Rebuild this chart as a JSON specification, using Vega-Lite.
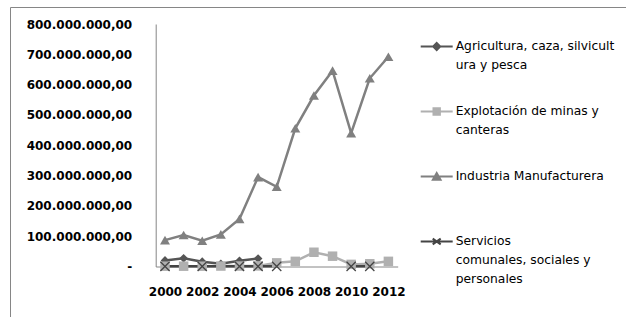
{
  "$schema": "https://vega.github.io/schema/vega-lite/v6.json",
  "autosize": {"type": "none"},
  "width": 242,
  "height": 242.5,
  "padding": {"left": 155.7, "top": 24, "right": 228.3, "bottom": 50.5},
  "background": "white",
  "config": {"view": {"stroke": null}},
  "data": {"values": [
    {"s": "Agricultura, caza, silvicultura y pesca", "year": 2000, "v": 20000000},
    {"s": "Agricultura, caza, silvicultura y pesca", "year": 2001, "v": 27000000},
    {"s": "Agricultura, caza, silvicultura y pesca", "year": 2002, "v": 16000000},
    {"s": "Agricultura, caza, silvicultura y pesca", "year": 2003, "v": 9000000},
    {"s": "Agricultura, caza, silvicultura y pesca", "year": 2004, "v": 19000000},
    {"s": "Agricultura, caza, silvicultura y pesca", "year": 2005, "v": 26000000},
    {"s": "Explotación de minas y canteras", "year": 2000, "v": 1000000},
    {"s": "Explotación de minas y canteras", "year": 2001, "v": 1000000},
    {"s": "Explotación de minas y canteras", "year": 2002, "v": 1000000},
    {"s": "Explotación de minas y canteras", "year": 2003, "v": 1500000},
    {"s": "Explotación de minas y canteras", "year": 2004, "v": 1500000},
    {"s": "Explotación de minas y canteras", "year": 2005, "v": 2000000},
    {"s": "Explotación de minas y canteras", "year": 2006, "v": 12000000},
    {"s": "Explotación de minas y canteras", "year": 2007, "v": 17000000},
    {"s": "Explotación de minas y canteras", "year": 2008, "v": 47000000},
    {"s": "Explotación de minas y canteras", "year": 2009, "v": 34000000},
    {"s": "Explotación de minas y canteras", "year": 2010, "v": 7000000},
    {"s": "Explotación de minas y canteras", "year": 2011, "v": 9000000},
    {"s": "Explotación de minas y canteras", "year": 2012, "v": 17000000},
    {"s": "Industria Manufacturera", "year": 2000, "v": 87000000},
    {"s": "Industria Manufacturera", "year": 2001, "v": 104000000},
    {"s": "Industria Manufacturera", "year": 2002, "v": 85000000},
    {"s": "Industria Manufacturera", "year": 2003, "v": 106000000},
    {"s": "Industria Manufacturera", "year": 2004, "v": 157000000},
    {"s": "Industria Manufacturera", "year": 2005, "v": 295000000},
    {"s": "Industria Manufacturera", "year": 2006, "v": 263000000},
    {"s": "Industria Manufacturera", "year": 2007, "v": 456000000},
    {"s": "Industria Manufacturera", "year": 2008, "v": 564000000},
    {"s": "Industria Manufacturera", "year": 2009, "v": 646000000},
    {"s": "Industria Manufacturera", "year": 2010, "v": 440000000},
    {"s": "Industria Manufacturera", "year": 2011, "v": 621000000},
    {"s": "Industria Manufacturera", "year": 2012, "v": 692000000},
    {"s": "Servicios comunales, sociales y personales", "year": 2000, "v": 500000},
    {"s": "Servicios comunales, sociales y personales", "year": 2002, "v": 500000},
    {"s": "Servicios comunales, sociales y personales", "year": 2004, "v": 500000},
    {"s": "Servicios comunales, sociales y personales", "year": 2005, "v": 500000},
    {"s": "Servicios comunales, sociales y personales", "year": 2006, "v": 500000},
    {"s": "Servicios comunales, sociales y personales", "year": 2007, "v": null},
    {"s": "Servicios comunales, sociales y personales", "year": 2010, "v": 500000},
    {"s": "Servicios comunales, sociales y personales", "year": 2011, "v": 500000}
  ]},
  "encoding": {
    "x": {
      "field": "year", "type": "ordinal",
      "scale": {"type": "point", "padding": 0.5},
      "axis": {
        "title": null,
        "values": [2000, 2002, 2004, 2006, 2008, 2010, 2012],
        "labelAngle": 0,
        "labelFont": "DejaVu Sans", "labelFontWeight": "bold", "labelFontSize": 12,
        "labelColor": "#000000", "labelPadding": 20,
        "ticks": false, "domainColor": "#868686", "domainWidth": 1, "grid": false
      }
    },
    "y": {
      "field": "v", "type": "quantitative",
      "scale": {"domain": [0, 800000000], "nice": false},
      "axis": {
        "title": null,
        "values": [0, 100000000, 200000000, 300000000, 400000000, 500000000, 600000000, 700000000, 800000000],
        "labelExpr": "datum.value == 0 ? '-' : (datum.value / 100000000) + '00.000.000,00'",
        "labelFont": "DejaVu Sans", "labelFontWeight": "bold", "labelFontSize": 12,
        "labelColor": "#000000", "labelPadding": 24,
        "ticks": false, "domainColor": "#868686", "domainWidth": 1, "grid": false
      }
    },
    "color": {
      "field": "s", "type": "nominal",
      "scale": {
        "domain": ["Agricultura, caza, silvicultura y pesca", "Explotación de minas y canteras", "Industria Manufacturera", "Servicios comunales, sociales y personales"],
        "range": ["#555555", "#b0b0b0", "#808080", "#444444"]
      },
      "legend": {
        "title": null,
        "orient": "none",
        "legendX": 264,
        "legendY": -10,
        "padding": 0,
        "rowPadding": 0,
        "clipHeight": 65,
        "symbolType": "M-1,0H1",
        "symbolSize": 1024,
        "symbolStrokeWidth": 2,
        "labelOffset": 2,
        "labelFont": "DejaVu Sans", "labelFontSize": 12.3, "labelColor": "#000000",
        "labelBaseline": "top",
        "labelLimit": 300,
        "labelExpr": "datum.label == 'Agricultura, caza, silvicultura y pesca' ? ['Agricultura, caza, silvicult', 'ura y pesca'] : datum.label == 'Explotación de minas y canteras' ? ['Explotación de minas y', 'canteras'] : datum.label == 'Servicios comunales, sociales y personales' ? ['Servicios', 'comunales, sociales y', 'personales'] : datum.label",
        "encode": {
          "labels": {"update": {"dy": {"value": -7}, "lineHeight": {"value": 19}}},
          "symbols": {"update": {
            "shape": {"signal": "datum.value == 'Agricultura, caza, silvicultura y pesca' ? 'M-1,0H1M0,-0.22L0.22,0L0,0.22L-0.22,0Z' : datum.value == 'Explotación de minas y canteras' ? 'M-1,0H1M-0.2,-0.2H0.2V0.2H-0.2Z' : datum.value == 'Industria Manufacturera' ? 'M-1,0H1M0,-0.22L0.24,0.2H-0.24Z' : 'M-1,0H1M-0.25,-0.18L0.25,0.18M-0.25,0.18L0.25,-0.18'"},
            "fill": {"scale": "color", "field": "value"},
            "stroke": {"scale": "color", "field": "value"},
            "strokeWidth": {"value": 2}
          }}
        }
      }
    }
  },
  "layer": [
    {
      "mark": {"type": "line", "strokeWidth": 2.5, "invalid": "break-paths-show-domains"}
    },
    {
      "transform": [{"filter": "datum.s == 'Agricultura, caza, silvicultura y pesca'"}],
      "mark": {"type": "point", "filled": true, "opacity": 1, "shape": "diamond", "size": 75}
    },
    {
      "transform": [{"filter": "datum.s == 'Explotación de minas y canteras'"}],
      "mark": {"type": "point", "filled": true, "opacity": 1, "shape": "square", "size": 90}
    },
    {
      "transform": [{"filter": "datum.s == 'Industria Manufacturera'"}],
      "mark": {"type": "point", "filled": true, "opacity": 1, "shape": "triangle-up", "size": 100}
    },
    {
      "transform": [{"filter": "datum.s == 'Servicios comunales, sociales y personales' && isValid(datum.v)"}],
      "mark": {"type": "point", "filled": false, "opacity": 1, "shape": "M-1,-1L1,1M-1,1L1,-1", "strokeWidth": 1.3},
      "encoding": {
        "size": {
          "field": "v", "type": "quantitative",
          "scale": {"range": [85, 85]},
          "legend": {
            "title": null,
            "orient": "none",
            "legendX": -145.7,
            "legendY": -17,
            "padding": 420,
            "strokeColor": "#868686",
            "fillColor": null,
            "symbolOpacity": 0,
            "labelOpacity": 0,
            "labelExpr": "''"
          }
        }
      }
    }
  ]
}
